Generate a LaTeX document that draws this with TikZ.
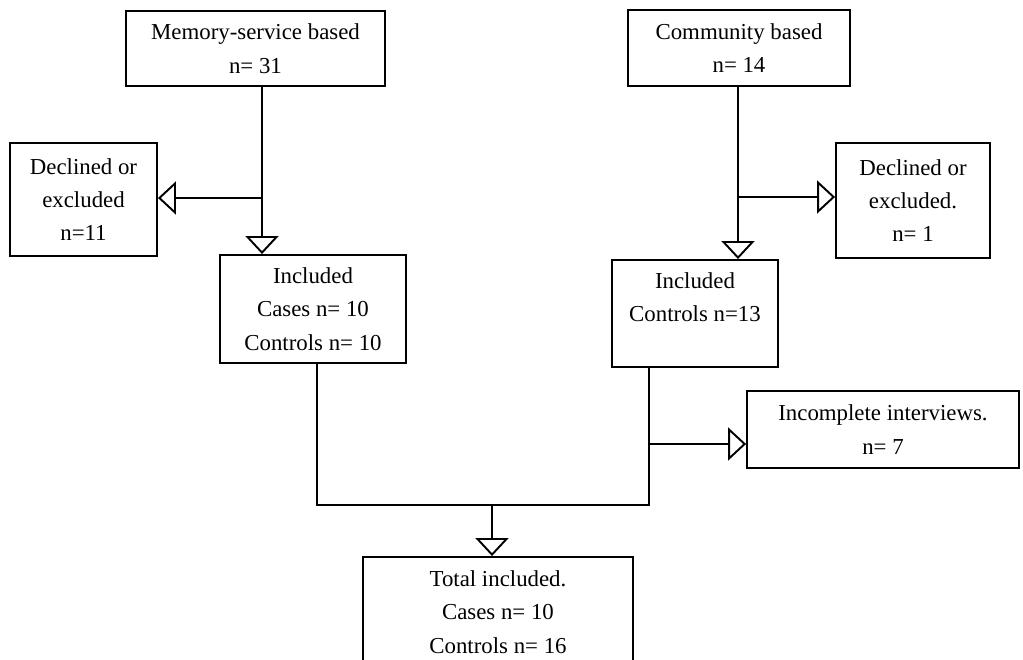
\documentclass[tikz,border=0pt]{standalone}
\usepackage{fontspec}
\setmainfont{Liberation Serif}
\usetikzlibrary{arrows.meta}

\begin{document}
\begin{tikzpicture}[x=0.02cm, y=-0.02cm,
    box/.style={rectangle, draw, line width=1.1pt, inner sep=0pt, align=center, font=\fontsize{13}{19}\selectfont},
    link/.style={line width=1.1pt},
    flow/.style={line width=1.1pt, -{Triangle[open, length=0.36cm, width=0.66cm, line width=1.1pt]}}]
    \useasboundingbox (0,0) rectangle (1023,659);
    \clip (0,0) rectangle (1023,659);

    % Sources
    \node[box, minimum width=5.18cm, minimum height=1.5cm] (MEM) at (255.5,48.5) {Memory-service based\\n= 31};
    \node[box, minimum width=4.44cm, minimum height=1.52cm] (COM) at (739,48) {Community based\\n= 14};

    % Exclusions
    \node[box, minimum width=2.94cm, minimum height=2.26cm] (DECL) at (83.5,199.5) {Declined or\\excluded\\n=11};
    \node[box, minimum width=3.08cm, minimum height=2.3cm] (DECR) at (913,200.5) {Declined or\\excluded.\\n= 1};

    % Included per source
    \node[box, minimum width=3.72cm, minimum height=2.16cm] (INCL) at (313,309) {Included\\Cases n= 10\\Controls n= 10};
    \node[box, minimum width=3.32cm, minimum height=2.14cm] (INCR) at (695,313.5) {Included\\Controls n=13\\\mbox{}};

    % Incomplete interviews
    \node[box, minimum width=5.44cm, minimum height=1.54cm] (INCOMP) at (883,429.5) {Incomplete interviews.\\n= 7};

    % Total
    \node[box, minimum width=5.4cm, minimum height=2.2cm] (TOTAL) at (498,612) {Total included.\\Cases n= 10\\Controls n= 16};

    % Junctions
    \coordinate (JL) at (262,198);
    \coordinate (JR) at (738,197);
    \coordinate (BL) at (317,505);
    \coordinate (BR) at (649,505);
    \coordinate (JI) at (649,444);
    \coordinate (JM) at (492,505);

    % Memory-service branch
    \draw[flow] (MEM.south -| JL) -- (INCL.north -| JL);
    \draw[flow] (JL) -- (DECL.east |- JL);

    % Community branch
    \draw[flow] (COM.south -| JR) -- (INCR.north -| JR);
    \draw[flow] (JR) -- (DECR.west |- JR);

    % Merge
    \draw[link] (INCL.south -| BL) -- (BL) -- (BR) -- (INCR.south -| BR);
    \draw[flow] (JI) -- (INCOMP.west |- JI);
    \draw[flow] (JM) -- (TOTAL.north -| JM);
\end{tikzpicture}
\end{document}
